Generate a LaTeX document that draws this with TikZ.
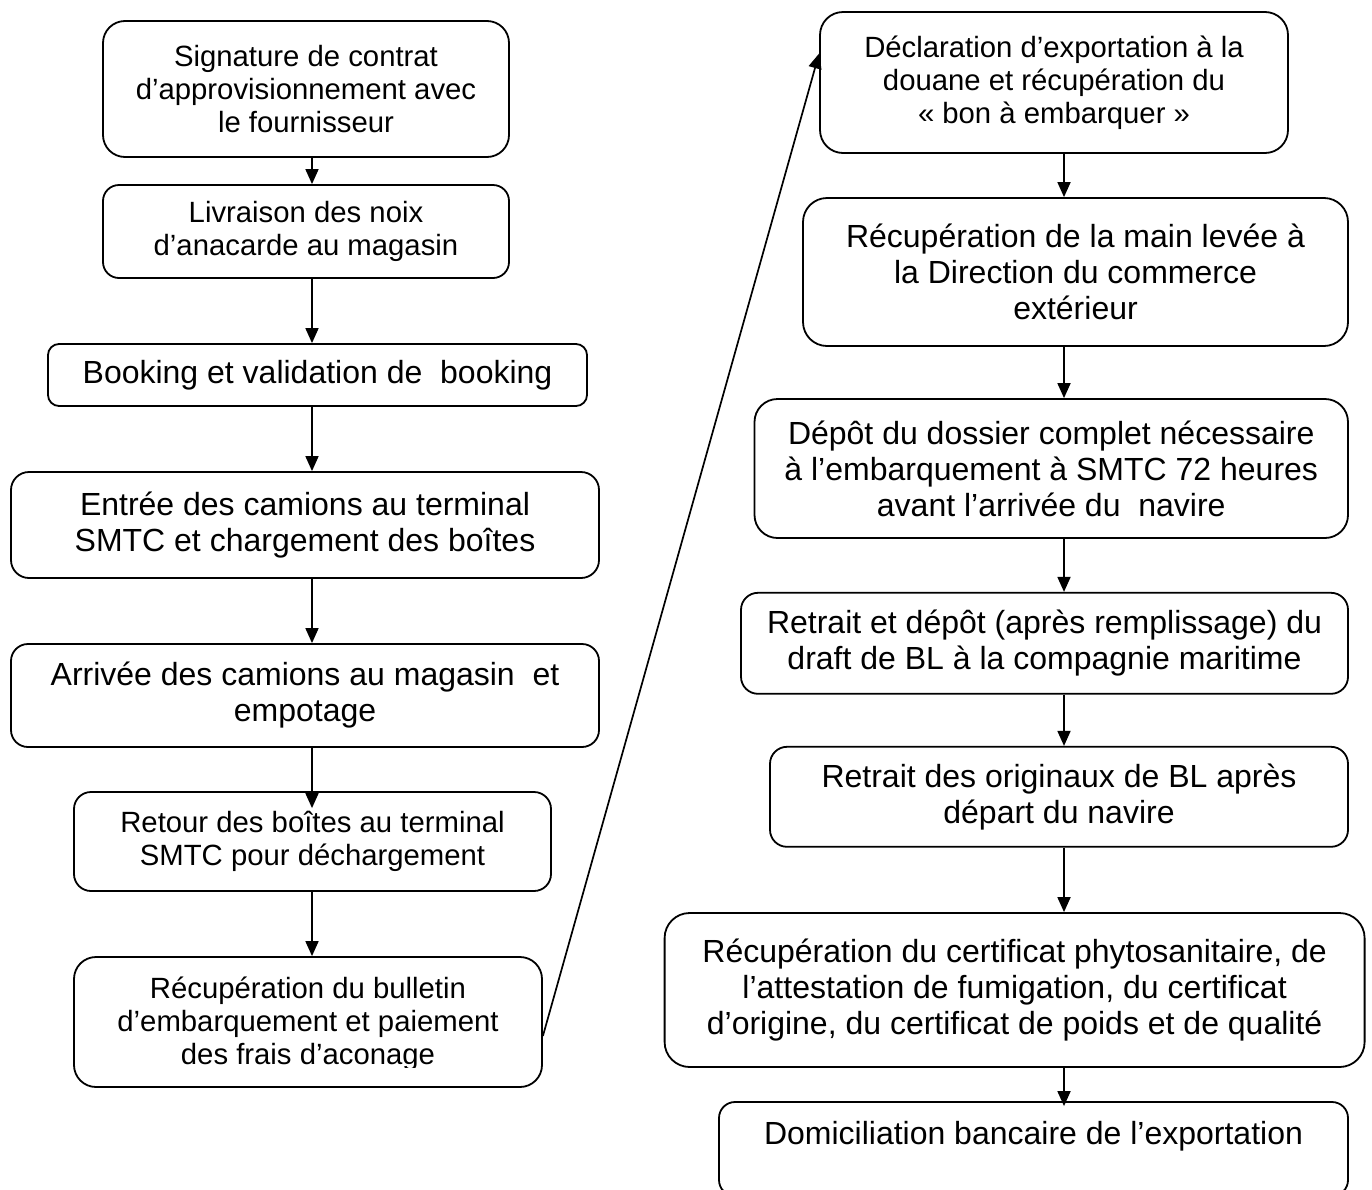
\documentclass[tikz,border=0pt]{standalone}
\usepackage{fontspec}
\setmainfont{Liberation Sans}
\usetikzlibrary{arrows.meta}
\tikzset{
  stepbox/.style={draw, line width=1.8pt, rounded corners=#1, inner sep=0pt, align=center},
  stepbox/.default=18pt,
  ftA/.style={font=\fontsize{29.3}{33}\selectfont},
  ftB/.style={font=\fontsize{32}{36}\selectfont},
  plaintext/.style={inner sep=0pt, align=center},
  arr/.style={line width=1.7pt, -{Triangle[width=13pt,length=15pt]}}
}
\begin{document}
\begin{tikzpicture}[x=1pt,y=-1pt]
\useasboundingbox (0,0) rectangle (1372,1189);
\clip (0,0) rectangle (1372,1189);
\coordinate (ax) at (312,0);
\coordinate (bx) at (1064,0);

% left column
\node[stepbox=22pt, ftA, minimum width=406pt, minimum height=136pt] (b1) at (306,89)
  {Signature de contrat\\d’approvisionnement avec\\le fournisseur};
\node[stepbox=16pt, ftA, minimum width=406pt, minimum height=93pt] (b2) at (306,231.5)
  {Livraison des noix\\d’anacarde au magasin};
\node[stepbox=11pt, ftB, minimum width=539pt, minimum height=62pt] (b3) at (317.5,375)
  {Booking et validation de\ \ booking};
\node[stepbox=18pt, ftB, minimum width=588pt, minimum height=106pt] (b4) at (305,525)
  {Entrée des camions au terminal\\SMTC et chargement des boîtes};
\node[stepbox=17pt, ftB, minimum width=588pt, minimum height=103pt] (b5) at (305,695.5)
  {Arrivée des camions au magasin\ \ et\\empotage};
\node[stepbox=17pt, ftA, minimum width=477pt, minimum height=99pt] (b6) at (312.5,841.5)
  {Retour des boîtes au terminal\\SMTC pour déchargement};
\node[stepbox=22pt, minimum width=468pt, minimum height=130pt] (b7) at (308,1022) {};
\begin{scope}
  \clip (74,957) rectangle (542,1067);
  \node[plaintext, ftA] (b7t) at (308,1024)
    {Récupération du bulletin\\d’embarquement et paiement\\des frais d’aconage};
\end{scope}

% right column
\node[stepbox=23pt, ftA, minimum width=468pt, minimum height=141pt] (r1) at (1054,82.5)
  {Déclaration d’exportation à la\\douane et récupération du\\« bon à embarquer »};
\node[stepbox=24pt, ftB, minimum width=545pt, minimum height=148pt] (r2) at (1075.5,272)
  {Récupération de la main levée à\\la Direction du commerce\\extérieur};
\node[stepbox=23pt, ftB, minimum width=593.5pt, minimum height=139pt] (r3) at (1051.25,468.5)
  {Dépôt du dossier complet nécessaire\\à l’embarquement à SMTC 72 heures\\avant l’arrivée du\ \ navire};
\node[stepbox=17pt, ftB, minimum width=607pt, minimum height=101pt] (r4) at (1044.5,643.3)
  {Retrait et dépôt (après remplissage) du\\draft de BL à la compagnie maritime};
\node[stepbox=17pt, ftB, minimum width=578pt, minimum height=100pt] (r5) at (1059,796.8)
  {Retrait des originaux de BL après\\départ du navire};
\node[stepbox=25pt, ftB, minimum width=700pt, minimum height=154pt] (r6) at (1014.6,990)
  {Récupération du certificat phytosanitaire, de\\l’attestation de fumigation, du certificat\\d’origine, du certificat de poids et de qualité};
\node[stepbox=16pt, ftB, text depth=33pt, minimum width=629pt, minimum height=94pt] (r7) at (1033.5,1149)
  {Domiciliation bancaire de l’exportation};

% connectors
\draw[arr] (b1.south -| ax) -- (b2.north -| ax);
\draw[arr] (b2.south -| ax) -- (b3.north -| ax);
\draw[arr] (b3.south -| ax) -- (b4.north -| ax);
\draw[arr] (b4.south -| ax) -- (b5.north -| ax);
\draw[arr, shorten >=-17pt] (b5.south -| ax) -- (b6.north -| ax);
\draw[arr] (b6.south -| ax) -- (b7.north -| ax);
\draw[arr] ([yshift=-14pt]b7.east) -- ([yshift=29pt]r1.west);
\draw[arr] (r1.south -| bx) -- (r2.north -| bx);
\draw[arr] (r2.south -| bx) -- (r3.north -| bx);
\draw[arr] (r3.south -| bx) -- (r4.north -| bx);
\draw[arr] (r4.south -| bx) -- (r5.north -| bx);
\draw[arr] (r5.south -| bx) -- (r6.north -| bx);
\draw[arr, shorten >=-5pt] (r6.south -| bx) -- (r7.north -| bx);
\end{tikzpicture}
\end{document}
